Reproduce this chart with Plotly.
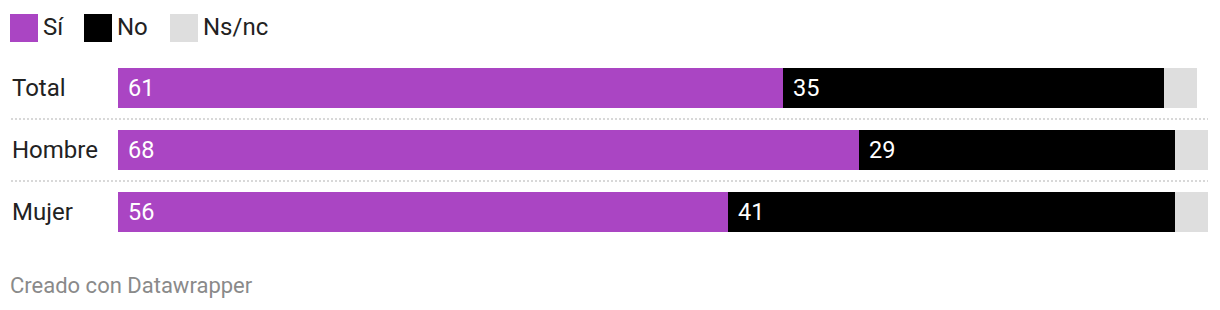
import plotly.graph_objects as go

categories = ["Total", "Hombre", "Mujer"]
series_names = ["Sí", "No", "Ns/nc"]
si = [61, 68, 56]
no = [35, 29, 41]
nsnc = [3, 3, 3]
colors = ["#aa45c3", "#000000", "#dedede"]
label_colors = ["#ffffff", "#ffffff", None]

W, H = 1220, 310
FONT = "Roboto"
FS = 24

fig = go.Figure()
series = [si, no, nsnc]
for name, vals, col in zip(series_names, series, colors):
    fig.add_trace(go.Bar(
        y=categories, x=vals, name=name, orientation="h",
        marker=dict(color=col, line=dict(width=0)),
        width=40 / 62, showlegend=False, hoverinfo="x+name",
    ))

annotations = []
# value labels
for si_idx, (vals, lc) in enumerate(zip(series, label_colors)):
    if lc is None:
        continue
    for ci, cat in enumerate(categories):
        start = sum(series[k][ci] for k in range(si_idx))
        annotations.append(dict(
            x=start, y=cat, xref="x", yref="y", text=str(vals[ci]),
            showarrow=False, xanchor="left", yanchor="middle", xshift=8,
            font=dict(family=FONT, size=23.5, color=lc),
        ))
# category labels
for cat in categories:
    annotations.append(dict(
        x=10 / W, y=cat, xref="paper", yref="y", text=cat, showarrow=False,
        xanchor="left", yanchor="middle",
        font=dict(family=FONT, size=FS, color="#222222"),
    ))

shapes = []
# legend
leg_x = [10, 84, 170]
for name, col, lx in zip(series_names, colors, leg_x):
    shapes.append(dict(type="rect", xref="paper", yref="paper",
                       x0=lx / W, x1=(lx + 28) / W, y0=1 - 42 / H, y1=1 - 14 / H,
                       fillcolor=col, line=dict(width=0)))
    annotations.append(dict(
        x=(lx + 31) / W, y=1 - 27 / H, xref="paper", yref="paper", text=name,
        showarrow=False, xanchor="left", yanchor="middle",
        font=dict(family=FONT, size=FS, color="#222222"),
    ))
# separators
for yv in [0.5, 1.5]:
    shapes.append(dict(type="line", xref="paper", yref="y",
                       x0=11 / W, x1=1208 / W, y0=yv, y1=yv,
                       line=dict(color="#cccccc", width=1.5, dash="2px,2px")))
# footer
annotations.append(dict(
    x=8 / W, y=1 - 285 / H, xref="paper", yref="paper",
    text="Creado con Datawrapper", showarrow=False, xanchor="left", yanchor="middle",
    font=dict(family=FONT, size=22, color="#8a8a8a"),
))

fig.update_layout(
    width=W, height=H, barmode="stack",
    margin=dict(l=0, r=0, t=0, b=0),
    paper_bgcolor="white", plot_bgcolor="white",
    xaxis=dict(range=[0, 100], domain=[118 / W, 1208 / W], visible=False, fixedrange=True),
    yaxis=dict(domain=[(H - 243) / H, (H - 57) / H], autorange="reversed",
               visible=False, fixedrange=True),
    shapes=shapes, annotations=annotations,
    font=dict(family=FONT),
)

fig.write_html("out.html", config={"displayModeBar": False})
